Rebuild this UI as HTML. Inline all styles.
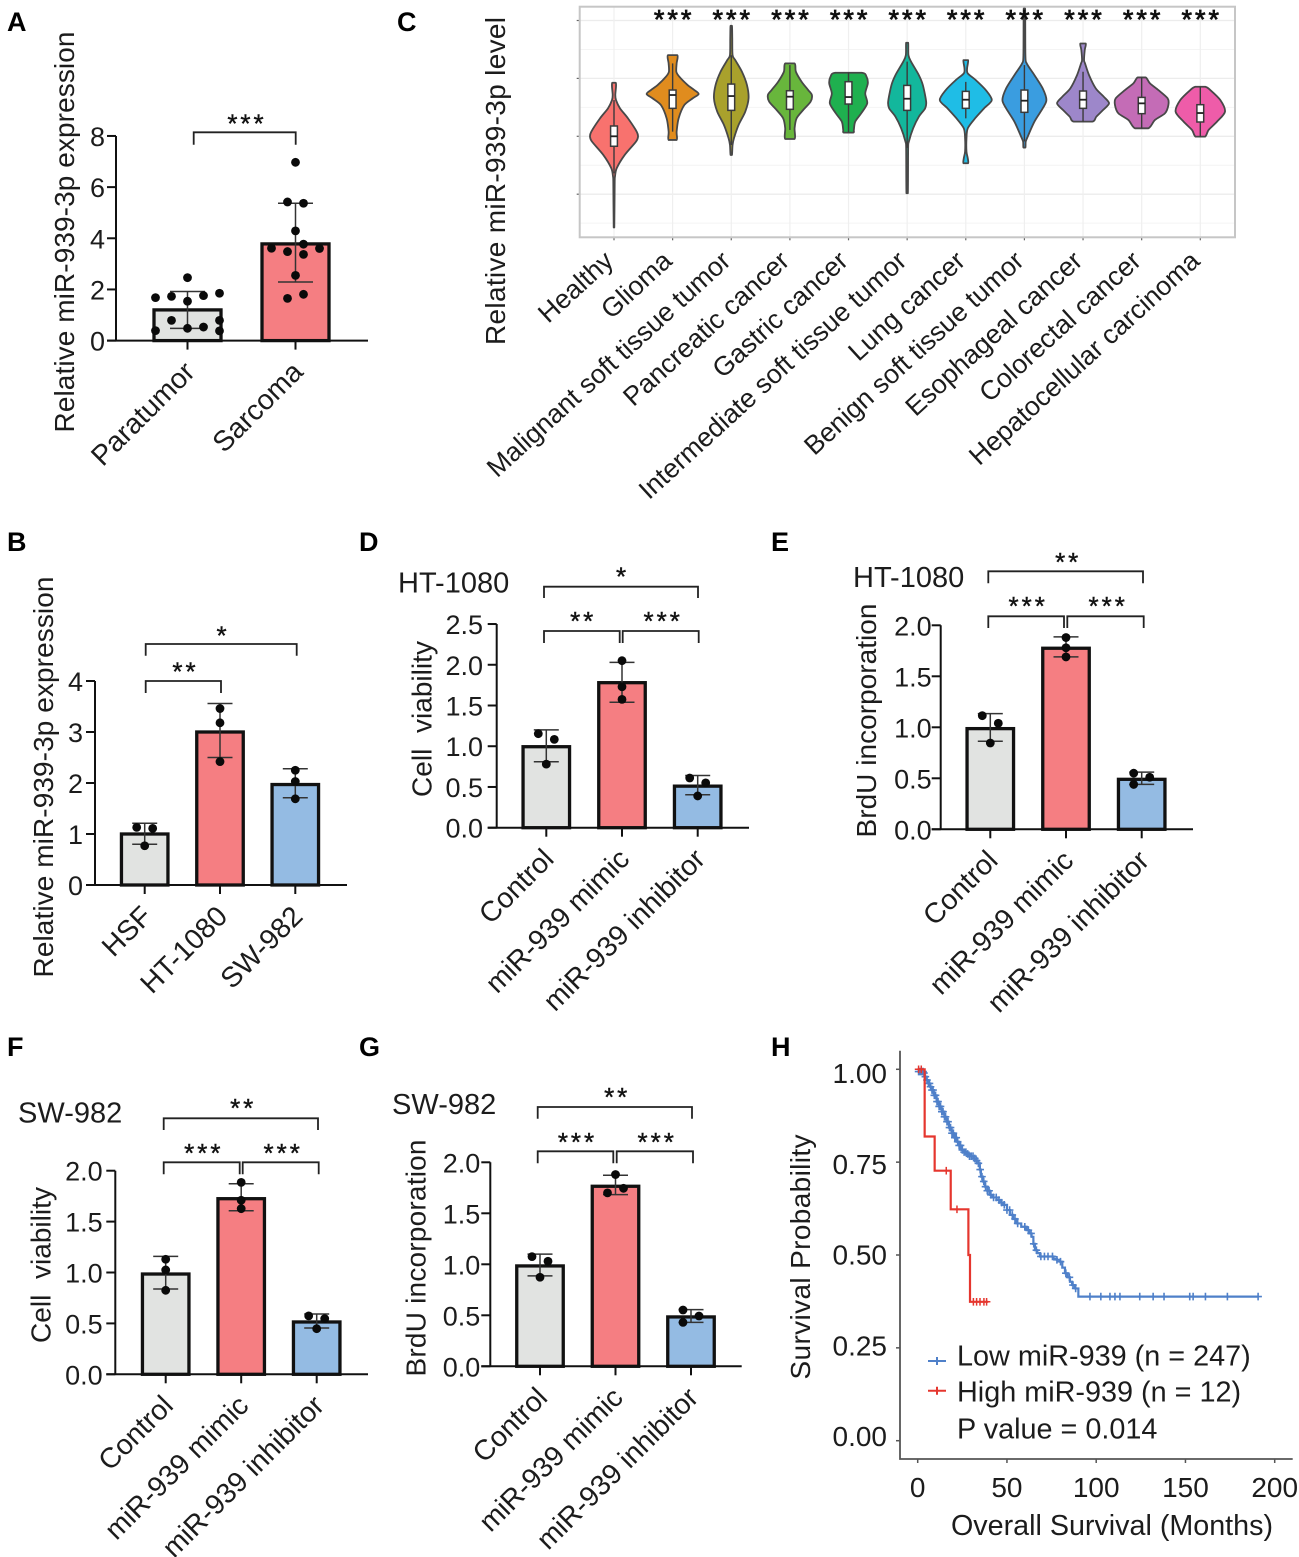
<!DOCTYPE html>
<html lang="en">
<head>
<meta charset="utf-8">
<title>miR-939-3p expression figure</title>
<style>
  html, body { margin: 0; padding: 0; background: #fff; }
  svg { display: block; font-family: "Liberation Sans", Arial, sans-serif; }
  text { fill: #1c1c1c; }
  .plabel { font-weight: bold; font-size: 27px; fill: #000; }
  .ytitle { font-size: 28px; }
  .xtitle { font-size: 28.7px; }
  .tick { font-size: 27px; }
  .cat { font-size: 28.4px; }
  .ccat { font-size: 26.7px; }
  .cond { font-size: 29px; }
  .sig { font-size: 26px; text-anchor: middle; letter-spacing: 3px; fill: #111; stroke: #111; stroke-width: 0.4; transform: translateY(-2.5px); }
  .sigc { font-size: 27px; stroke-width: 0.8; }
  .br { fill: none; stroke: #222; stroke-width: 1.8; }
  .legend { font-size: 28.8px; }
</style>
</head>
<body>
<svg id="figure" width="1299" height="1557" viewBox="0 0 1299 1557" xmlns="http://www.w3.org/2000/svg">
  <rect width="1299" height="1557" fill="#fff"/>

  <g>
    <text class="plabel" x="7" y="31">A</text>
    <text class="plabel" x="397" y="31">C</text>
    <text class="plabel" x="7" y="551">B</text>
    <text class="plabel" x="359" y="551">D</text>
    <text class="plabel" x="771" y="551">E</text>
    <text class="plabel" x="7" y="1056">F</text>
    <text class="plabel" x="359" y="1056">G</text>
    <text class="plabel" x="771" y="1056">H</text>
  </g>

  <!-- Panel A -->
  <g id="panel-a">
    <text class="ytitle" transform="translate(74,232) rotate(-90)" text-anchor="middle" textLength="401">Relative miR-939-3p expression</text>
    <path class="br" d="M193.7 144.7V132.3H295.7V144.7"/>
    <text class="sig" x="247" y="135">***</text>
  </g>

  <!-- Panel B -->
  <g id="panel-b">
    <text class="ytitle" transform="translate(53,777) rotate(-90)" text-anchor="middle" textLength="401">Relative miR-939-3p expression</text>
    <path class="br" d="M145.7 655.7V644H296.7V655.7"/>
    <path class="br" d="M145.7 693V681H221V693"/>
    <text class="sig" x="223" y="647">*</text>
    <text class="sig" x="185.5" y="683">**</text>
  </g>

  <!-- Panel D -->
  <g id="panel-d">
    <text class="cond" x="398" y="592.7">HT-1080</text>
    <text class="ytitle" transform="translate(431.3,719) rotate(-90)" text-anchor="middle" xml:space="preserve" textLength="156">Cell&#160;&#160;viability</text>
    <path class="br" d="M544 598V586.7H698V598"/>
    <path class="br" d="M544 643V631H619.7V643"/>
    <path class="br" d="M622.7 643V631H698.7V643"/>
    <text class="sig" x="622.5" y="588">*</text>
    <text class="sig" x="583.2" y="632.7">**</text>
    <text class="sig" x="663.2" y="632.7">***</text>
  </g>

  <!-- Panel E -->
  <g id="panel-e">
    <text class="cond" x="853" y="587">HT-1080</text>
    <text class="ytitle" transform="translate(876,720.5) rotate(-90)" text-anchor="middle" textLength="234">BrdU incorporation</text>
    <path class="br" d="M988.3 583.3V571.3H1143V583.3"/>
    <path class="br" d="M988.3 628V616.3H1064V628"/>
    <path class="br" d="M1067.3 628V616.3H1143.7V628"/>
    <text class="sig" x="1068.2" y="573.7">**</text>
    <text class="sig" x="1028.2" y="617.7">***</text>
    <text class="sig" x="1108.2" y="617.7">***</text>
  </g>

  <!-- Panel F -->
  <g id="panel-f">
    <text class="cond" x="18" y="1122.7">SW-982</text>
    <text class="ytitle" transform="translate(50.3,1265) rotate(-90)" text-anchor="middle" xml:space="preserve" textLength="156">Cell&#160;&#160;viability</text>
    <path class="br" d="M163.7 1130V1118.3H318V1130"/>
    <path class="br" d="M163.7 1174.3V1162.3H239.7V1174.3"/>
    <path class="br" d="M242.7 1174.3V1162.3H318.7V1174.3"/>
    <text class="sig" x="243.2" y="1119.7">**</text>
    <text class="sig" x="203.8" y="1164.3">***</text>
    <text class="sig" x="283.2" y="1164.3">***</text>
  </g>

  <!-- Panel G -->
  <g id="panel-g">
    <text class="cond" x="392" y="1114">SW-982</text>
    <text class="ytitle" transform="translate(425.7,1258) rotate(-90)" text-anchor="middle" textLength="237">BrdU incorporation</text>
    <path class="br" d="M537.7 1118.7V1107H692V1118.7"/>
    <path class="br" d="M537.7 1163.3V1151.3H613.3V1163.3"/>
    <path class="br" d="M616.7 1163.3V1151.3H693V1163.3"/>
    <text class="sig" x="617.2" y="1108.7">**</text>
    <text class="sig" x="577.5" y="1153.3">***</text>
    <text class="sig" x="657.2" y="1153.3">***</text>
  </g>

  <!-- Panel C -->
  <g id="panel-c">
    <text class="ytitle" transform="translate(505,181) rotate(-90)" text-anchor="middle" textLength="328">Relative miR-939-3p level</text>
    <g id="panel-c-marks"></g>
    <g>
      <text class="sig sigc" x="674.2" y="31">***</text>
      <text class="sig sigc" x="732.8" y="31">***</text>
      <text class="sig sigc" x="791.5" y="31">***</text>
      <text class="sig sigc" x="850.2" y="31">***</text>
      <text class="sig sigc" x="908.8" y="31">***</text>
      <text class="sig sigc" x="967.2" y="31">***</text>
      <text class="sig sigc" x="1025.8" y="31">***</text>
      <text class="sig sigc" x="1084.5" y="31">***</text>
      <text class="sig sigc" x="1143.2" y="31">***</text>
      <text class="sig sigc" x="1201.8" y="31">***</text>
    </g>
  </g>

  <!-- Panel H -->
  <g id="panel-h">
    <text class="ytitle" transform="translate(810,1257) rotate(-90)" text-anchor="middle" textLength="245">Survival Probability</text>
    <text class="xtitle" x="1112" y="1535" text-anchor="middle">Overall Survival (Months)</text>
    <g id="panel-h-marks"></g>
    <g>
      <g>
        <path d="M928 1361H946M937 1357V1365" stroke="#4F80C9" stroke-width="2" fill="none"/>
        <text class="legend" x="957" y="1365.7">Low miR-939 (n = 247)</text>
      </g>
      <g>
        <path d="M928 1390.7H946M937 1386.7V1394.7" stroke="#E5362E" stroke-width="2" fill="none"/>
        <text class="legend" x="957" y="1401.7">High miR-939 (n = 12)</text>
      </g>
      <text class="legend" x="957" y="1438.3">P value = 0.014</text>
    </g>
  </g>
</svg>

<script>
// ---------- Panel A ----------
const aCategories = ['Paratumor', 'Sarcoma'];
const aTicks = [0, 2, 4, 6, 8];
const aTickLabels = ['0', '2', '4', '6', '8'];
const aMeans = [1.2, 3.78];
const aErrLow = [0.48, 2.29];
const aErrHigh = [1.92, 5.37];
const aDots = [
  [2.46, 1.68, 1.73, 1.76, 1.85, 1.54, 0.79, 0.79, 0.39, 0.48, 0.53, 0.38],
  [6.97, 5.42, 5.37, 4.29, 3.77, 3.61, 3.48, 3.37, 3.6, 2.55, 1.81, 1.65]
];
const aLanes = [
  [0, -2, -1, 1, 2, 0, -1, 2, -2, 0, 1, 2],
  [0, -0.5, 0.5, 0, 0.5, -1.5, -0.5, 0.5, 1.5, 0, 0.5, -0.5]
];

// ---------- Panel B ----------
const bCategories = ['HSF', 'HT-1080', 'SW-982'];
const bTicks = [0, 1, 2, 3, 4];
const bTickLabels = ['0', '1', '2', '3', '4'];
const bMeans = [1, 3, 1.97];
const bErrLow = [0.8, 2.5, 1.71];
const bErrHigh = [1.21, 3.56, 2.28];
const bDots = [[1.13, 1.11, 0.77], [3.46, 3.18, 2.42], [2.25, 2.03, 1.69]];
const bLanes = [[-0.5, 0.5, 0], [0, 0, 0], [0, 0, 0]];

// ---------- Panel D ----------
const treatmentCategories = ['Control', 'miR-939 mimic', 'miR-939 inhibitor'];
const dTicks = [0, 0.5, 1, 1.5, 2, 2.5];
const dTickLabels = ['0.0', '0.5', '1.0', '1.5', '2.0', '2.5'];
const dMeans = [0.994, 1.78, 0.51];
const dErrLow = [0.81, 1.54, 0.405];
const dErrHigh = [1.2, 2.03, 0.64];
const dDots = [[1.154, 1.084, 0.78], [2.05, 1.73, 1.575], [0.61, 0.55, 0.39]];
const dLanes = [[-0.5, 0.5, 0], [0, 0, 0], [-0.5, 0.5, 0]];

// ---------- Panel E ----------
const eTicks = [0, 0.5, 1, 1.5, 2];
const eTickLabels = ['0.0', '0.5', '1.0', '1.5', '2.0'];
const eMeans = [0.987, 1.775, 0.49];
const eErrLow = [0.863, 1.69, 0.44];
const eErrHigh = [1.134, 1.886, 0.56];
const eDots = [[1.114, 1.04, 0.846], [1.88, 1.78, 1.69], [0.55, 0.51, 0.44]];
const eLanes = [[-0.5, 0.5, 0], [0, 0, 0], [-0.5, 0.5, -0.5]];

// ---------- Panel F ----------
const fMeans = [0.985, 1.725, 0.514];
const fErrLow = [0.838, 1.607, 0.455];
const fErrHigh = [1.159, 1.872, 0.592];
const fDots = [[1.13, 1.025, 0.825], [1.885, 1.71, 1.627], [0.574, 0.547, 0.448]];
const fLanes = [[0, 0, 0], [0, 0, 0], [-0.5, 0.5, 0]];

// ---------- Panel G ----------
const gMeans = [0.984, 1.765, 0.484];
const gErrLow = [0.886, 1.683, 0.431];
const gErrHigh = [1.1, 1.873, 0.556];
const gDots = [[1.075, 1.03, 0.873], [1.88, 1.745, 1.7], [0.552, 0.493, 0.431]];
const gLanes = [[-0.5, 0.5, 0], [0, 0.5, -0.5], [-0.5, 0.5, -0.5]];

// ---------- Panel C violins ----------
const violinCategories = ['Healthy', 'Glioma', 'Malignant soft tissue tumor', 'Pancreatic cancer', 'Gastric cancer', 'Intermediate soft tissue tumor', 'Lung cancer', 'Benign soft tissue tumor', 'Esophageal cancer', 'Colorectal cancer', 'Hepatocellular carcinoma'];
const violinGridMajor = [-1, 0, 1, 2];
const violinGridMinor = [-1.5, -0.5, 0.5, 1.5];

const healthyLevels = [0.925, 0.856, 0.713, 0.626, 0.483, 0.31, 0.08, -0.006, -0.092, -0.322, -0.552, -0.695, -0.782, -1.575];
const healthyDensity = [1.7, 2, 1.3, 2, 6, 14, 22.7, 24, 22, 10.7, 2.7, 1, 0.7, 0.3];
const gliomaLevels = [1.402, 1.259, 1.115, 1.029, 0.885, 0.799, 0.73, 0.655, 0.54, 0.31, 0.08, -0.063];
const gliomaDensity = [4.7, 4, 3.7, 6.7, 15, 21.7, 26, 20, 11.7, 6, 4, 4];
const malignantLevels = [1.908, 1.69, 1.402, 1.316, 1.115, 0.885, 0.655, 0.425, 0.195, -0.034, -0.149, -0.322];
const malignantDensity = [0.7, 1, 1.3, 4, 10.7, 15.7, 17.3, 14, 7.3, 2.7, 1.3, 0.7];
const pancreaticLevels = [1.259, 1.115, 0.943, 0.799, 0.713, 0.598, 0.454, 0.31, 0.138, -0.046];
const pancreaticDensity = [4.7, 6, 11.7, 18.3, 22, 20.7, 13.3, 6.7, 4.7, 4.7];
const gastricLevels = [1.098, 1.029, 0.914, 0.741, 0.569, 0.397, 0.253, 0.109, 0.063];
const gastricDensity = [13.3, 18, 19.3, 16.7, 18.7, 12.7, 6.7, 5.3, 4.7];
const intermediateLevels = [1.615, 1.402, 1.287, 1.057, 0.885, 0.598, 0.483, 0.339, 0.138, -0.092, -0.207, -0.983];
const intermediateDensity = [1, 1.3, 4, 11.7, 15.7, 19, 18, 11.7, 6, 1.7, 1, 0.7];
const lungLevels = [1.316, 1.172, 1.086, 0.971, 0.799, 0.626, 0.483, 0.31, 0.138, -0.034, -0.264, -0.379, -0.466];
const lungDensity = [2.3, 1.3, 2, 10, 20, 26, 18.3, 9.3, 2, 0.7, 0.7, 2, 2.3];
const benignLevels = [2.207, 1.402, 1.259, 1.057, 0.828, 0.626, 0.483, 0.253, -0.006, -0.092, -0.195];
const benignDensity = [0.7, 1, 2.3, 10, 18.3, 22, 18.3, 10, 3.3, 1.3, 1];
const esophagealLevels = [1.603, 1.489, 1.316, 1.259, 1.057, 0.828, 0.684, 0.569, 0.454, 0.339, 0.253];
const esophagealDensity = [2.7, 1.7, 1, 2, 6, 12.7, 20.7, 26, 20, 13.3, 9.3];
const colorectalLevels = [1.017, 0.914, 0.799, 0.655, 0.54, 0.397, 0.282, 0.138];
const colorectalDensity = [4, 8.3, 16.7, 26, 26.7, 23.3, 13.3, 6.7];
const hepatocellularLevels = [0.856, 0.799, 0.626, 0.425, 0.253, 0.109, -0.006];
const hepatocellularDensity = [5, 10, 20, 24.7, 16.7, 8.3, 4.7];

const boxQ3 = [0.178, 0.799, 0.902, 0.787, 0.943, 0.879, 0.776, 0.799, 0.782, 0.672, 0.546];
const boxMedian = [0, 0.713, 0.695, 0.684, 0.678, 0.649, 0.632, 0.615, 0.632, 0.569, 0.402];
const boxQ1 = [-0.172, 0.483, 0.448, 0.466, 0.557, 0.448, 0.483, 0.414, 0.483, 0.391, 0.247];
const whiskerHigh = [0.626, 1.259, 1.4, 1.23, 1.1, 1.29, 0.94, 1.23, 1.115, 1.017, 0.856];
const whiskerLow = [-0.64, 0.08, -0.15, 0.11, 0.07, -0.2, 0.31, -0.09, 0.253, 0.138, -0.006];

// ---------- Panel H survival ----------
const survivalTicksY = [0, 0.25, 0.5, 0.75, 1];
const survivalTickLabelsY = ['0.00', '0.25', '0.50', '0.75', '1.00'];
const survivalTicksX = [0, 50, 100, 150, 200];
const survivalTickLabelsX = ['0', '50', '100', '150', '200'];
const lowTimes = [
  0, 3.2, 4, 5, 6, 7, 7.8, 9, 10.6, 12,
  13.4, 15, 16.2, 17.5, 19, 20.5, 21.8, 23, 24.6, 26,
  27.4, 29, 31.2, 33, 34, 34.8, 35.4, 36.5, 37.7, 39,
  40.5, 42, 44.2, 46, 48, 50, 51.7, 53.5, 55.4, 58,
  61, 62.5, 63.8, 64.8, 65.7, 67, 68.5, 76, 78, 79.7,
  81, 82.5, 84, 85.3, 86.5, 88, 90, 191
];
const lowSurvival = [
  0.994, 0.99, 0.98, 0.971, 0.962, 0.953, 0.944, 0.93, 0.913, 0.9,
  0.886, 0.872, 0.859, 0.843, 0.828, 0.816, 0.805, 0.795, 0.783, 0.777,
  0.772, 0.766, 0.76, 0.754, 0.747, 0.73, 0.711, 0.698, 0.684, 0.673,
  0.662, 0.655, 0.648, 0.641, 0.635, 0.621, 0.608, 0.597, 0.585, 0.576,
  0.567, 0.558, 0.549, 0.53, 0.513, 0.505, 0.496, 0.49, 0.487, 0.482,
  0.466, 0.451, 0.44, 0.428, 0.419, 0.41, 0.388, 0.388
];
const lowCensored = [0.5, 1, 1.5, 2, 2.5, 3, 3.5, 4.3, 5.2, 6, 6.6, 7.2, 8, 8.6, 9.3, 10, 10.8, 11.4, 12, 12.8, 13.5, 14.2, 15, 15.6, 16.4, 17, 17.8, 18.4, 19.2, 20, 20.8, 21.6, 22.4, 23.2, 24, 25, 26, 27, 28, 29, 30, 31, 32, 33, 34, 35, 36, 37, 38, 39, 40, 41, 42.5, 44, 45.5, 47, 48.5, 50, 51.5, 53, 54.5, 56, 60, 62, 63.5, 65, 66.5, 69, 71, 73, 75.5, 78, 80, 83, 85, 87, 88.5, 96.5, 102.6, 107.7, 110.5, 113.3, 124.4, 131.9, 138, 152.4, 154.3, 161.2, 173.5, 190.7];
const highTimes = [0, 3.9, 9.5, 18.5, 28.4, 29.3, 39.5];
const highSurvival = [1, 0.819, 0.727, 0.623, 0.5, 0.374, 0.374];
const highCensored = [0.5, 2, 16, 22, 31.2, 33, 34.9, 37.1, 38.6];

// ---------- Drawing ----------
const NS = 'http://www.w3.org/2000/svg';

function make(tag, attrs, parent) {
  const el = document.createElementNS(NS, tag);
  for (const k in attrs) el.setAttribute(k, attrs[k]);
  parent.appendChild(el);
  return el;
}

function drawBarPanel(panelId, layout, categories, ticks, tickLabels, means, errLow, errHigh, dots, lanes) {
  const root = document.getElementById(panelId);
  const yScale = v => layout.y0 - v * layout.unit;
  const xScale = i => layout.firstCenter + i * layout.step;
  const fills = ['#E1E3E1', '#F57E82', '#94BBE3'];

  const barGroup = make('g', {}, root);
  
  
  means.forEach((m, i) => {
    const bar = make('rect', {
      x: xScale(i) - layout.barWidth / 2, y: yScale(m), width: layout.barWidth, height: layout.y0 - yScale(m),
      fill: fills[i], stroke: '#111', 'stroke-width': 3.3
    }, barGroup);
    
    
  });

  const axis = make('path', {
    d: 'M' + layout.axisX + ' ' + yScale(ticks[ticks.length - 1]) + 'V' + layout.y0 + 'M' + (layout.axisX - 9) + ' ' + layout.y0 + 'H' + layout.xEnd,
    stroke: '#111', 'stroke-width': 2, fill: 'none'
  }, root);
  
  

  ticks.forEach((t, i) => {
    const mark = make('line', { x1: layout.axisX - 9, x2: layout.axisX, y1: yScale(t), y2: yScale(t), stroke: '#111', 'stroke-width': 2 }, root);
    
    
    const label = make('text', { class: 'tick', x: layout.axisX - layout.labelGap, y: yScale(t) + 10, 'text-anchor': 'end' }, root);
    label.textContent = tickLabels[i];
    
    
  });

  categories.forEach((c, i) => {
    const mark = make('line', { x1: xScale(i), x2: xScale(i), y1: layout.y0, y2: layout.y0 + 9, stroke: '#111', 'stroke-width': 2 }, root);
    
    
    const lx = xScale(i) + 9, ly = layout.y0 + 33;
    const label = make('text', { class: 'cat', x: lx, y: ly, 'text-anchor': 'end', transform: 'rotate(-45 ' + lx + ' ' + ly + ')' }, root);
    label.textContent = c;
    
    
  });

  means.forEach((m, i) => {
    const cx = xScale(i), h = layout.capHalf;
    const err = make('path', {
      d: 'M' + cx + ' ' + yScale(errLow[i]) + 'V' + yScale(errHigh[i]) +
         'M' + (cx - h) + ' ' + yScale(errHigh[i]) + 'H' + (cx + h) +
         'M' + (cx - h) + ' ' + yScale(errLow[i]) + 'H' + (cx + h),
      stroke: '#333', 'stroke-width': 1.5, fill: 'none'
    }, root);
    
    
    dots[i].forEach((d, j) => {
      const dot = make('circle', { cx: cx + lanes[i][j] * 16, cy: yScale(d), r: 4.4, fill: '#0a0a0a' }, root);
      
      
    });
  });
}

drawBarPanel('panel-a', { axisX: 116, y0: 340.6, unit: 25.58, firstCenter: 187.5, step: 108, barWidth: 67, capHalf: 17.5, xEnd: 368, labelGap: 11 },
  aCategories, aTicks, aTickLabels, aMeans, aErrLow, aErrHigh, aDots, aLanes);
drawBarPanel('panel-b', { axisX: 95, y0: 885, unit: 51, firstCenter: 144.7, step: 75.3, barWidth: 46.5, capHalf: 12.5, xEnd: 347, labelGap: 12 },
  bCategories, bTicks, bTickLabels, bMeans, bErrLow, bErrHigh, bDots, bLanes);
drawBarPanel('panel-d', { axisX: 496.7, y0: 827.7, unit: 81.47, firstCenter: 546.3, step: 75.7, barWidth: 46.5, capHalf: 12.5, xEnd: 749, labelGap: 13.7 },
  treatmentCategories, dTicks, dTickLabels, dMeans, dErrLow, dErrHigh, dDots, dLanes);
drawBarPanel('panel-e', { axisX: 940.7, y0: 829.3, unit: 102, firstCenter: 990.3, step: 75.7, barWidth: 46.5, capHalf: 12.5, xEnd: 1193, labelGap: 9 },
  treatmentCategories, eTicks, eTickLabels, eMeans, eErrLow, eErrHigh, eDots, eLanes);
drawBarPanel('panel-f', { axisX: 115.3, y0: 1374.3, unit: 101.8, firstCenter: 165.7, step: 75.5, barWidth: 46.5, capHalf: 12.5, xEnd: 368, labelGap: 12.6 },
  treatmentCategories, eTicks, eTickLabels, fMeans, fErrLow, fErrHigh, fDots, fLanes);
drawBarPanel('panel-g', { axisX: 490.3, y0: 1366.3, unit: 102, firstCenter: 540, step: 75.5, barWidth: 46.5, capHalf: 12.5, xEnd: 741.7, labelGap: 10 },
  treatmentCategories, eTicks, eTickLabels, gMeans, gErrLow, gErrHigh, gDots, gLanes);

function clamp(v, a, b) {
  return Math.min(Math.max(a, b), Math.max(Math.min(a, b), v));
}

function smoothPath(pts) {
  let d = 'M' + pts[0][0] + ' ' + pts[0][1];
  const n = pts.length;
  for (let i = 0; i < n; i++) {
    const p0 = pts[(i - 1 + n) % n], p1 = pts[i], p2 = pts[(i + 1) % n], p3 = pts[(i + 2) % n];
    const c1x = p1[0] + (p2[0] - p0[0]) / 7, c1y = clamp(p1[1] + (p2[1] - p0[1]) / 7, p1[1], p2[1]);
    const c2x = p2[0] - (p3[0] - p1[0]) / 7, c2y = clamp(p2[1] - (p3[1] - p1[1]) / 7, p1[1], p2[1]);
    d += 'C' + c1x + ' ' + c1y + ' ' + c2x + ' ' + c2y + ' ' + p2[0] + ' ' + p2[1];
  }
  return d + 'Z';
}

function drawViolins() {
  const root = document.getElementById('panel-c-marks');
  const yScale = v => 136.3 - 57.9 * v;
  const xScale = i => 614 + i * 58.63;
  const left = 579.7, right = 1235, top = 6.7, bottom = 237.3;
  const palette = ['#F8726E', '#E08C1E', '#A9A12C', '#68B63C', '#1FB04F', '#13B79C', '#1FBDE6', '#3A9DE0', '#9D87CA', '#C46CB6', '#EE5CA9'];
  const levelSets = [healthyLevels, gliomaLevels, malignantLevels, pancreaticLevels, gastricLevels, intermediateLevels, lungLevels, benignLevels, esophagealLevels, colorectalLevels, hepatocellularLevels];
  const densitySets = [healthyDensity, gliomaDensity, malignantDensity, pancreaticDensity, gastricDensity, intermediateDensity, lungDensity, benignDensity, esophagealDensity, colorectalDensity, hepatocellularDensity];

  violinGridMinor.forEach(v => {
    const g = make('line', { x1: left, x2: right, y1: yScale(v), y2: yScale(v), stroke: '#f4f4f4', 'stroke-width': 1 }, root);
    
    
  });
  violinGridMajor.forEach(v => {
    const g = make('line', { x1: left, x2: right, y1: yScale(v), y2: yScale(v), stroke: '#ececec', 'stroke-width': 1.3 }, root);
    
    
    const t = make('line', { x1: left - 3, x2: left, y1: yScale(v), y2: yScale(v), stroke: '#666', 'stroke-width': 1.2 }, root);
    
    
  });
  violinCategories.forEach((c, i) => {
    const g = make('line', { x1: xScale(i), x2: xScale(i), y1: top, y2: bottom, stroke: '#efefef', 'stroke-width': 1.2 }, root);
    
    
    const t = make('line', { x1: xScale(i), x2: xScale(i), y1: bottom, y2: bottom + 3, stroke: '#666', 'stroke-width': 1.2 }, root);
    
    
    const lx = xScale(i) + 1, ly = 263;
    const label = make('text', { class: 'ccat', x: lx, y: ly, 'text-anchor': 'end', transform: 'rotate(-42.5 ' + lx + ' ' + ly + ')' }, root);
    label.textContent = c;
    
    
  });
  const frame = make('rect', { x: left, y: top, width: right - left, height: bottom - top, fill: 'none', stroke: '#c6c6c6', 'stroke-width': 2 }, root);
  
  

  violinCategories.forEach((c, i) => {
    const cx = xScale(i);
    const levels = levelSets[i], density = densitySets[i];
    const rightSide = levels.map((v, j) => [cx + density[j], yScale(v)]);
    const leftSide = levels.map((v, j) => [cx - density[j], yScale(v)]).reverse();
    const g = make('g', {}, root);
    
    
    const body = make('path', { d: smoothPath(rightSide.concat(leftSide)), fill: palette[i], stroke: '#484848', 'stroke-width': 1.8, 'stroke-linejoin': 'round' }, g);
    
    
    const whisker = make('line', { x1: cx, x2: cx, y1: yScale(whiskerHigh[i]), y2: yScale(whiskerLow[i]), stroke: '#3a3a3a', 'stroke-width': 1.4 }, g);
    
    
    const box = make('rect', { x: cx - 3.4, y: yScale(boxQ3[i]), width: 6.8, height: yScale(boxQ1[i]) - yScale(boxQ3[i]), fill: '#fff', stroke: '#3a3a3a', 'stroke-width': 1.5 }, g);
    
    
    const med = make('line', { x1: cx - 3.4, x2: cx + 3.4, y1: yScale(boxMedian[i]), y2: yScale(boxMedian[i]), stroke: '#222', 'stroke-width': 1.8 }, g);
    
    
  });
}
drawViolins();

function drawSurvival() {
  const root = document.getElementById('panel-h-marks');
  const xScale = t => 917.7 + t * 1.785;
  const yScale = s => 1440.7 - s * 371.4;
  const yLabelBaseline = s => 1446 + s * 363;

  const axes = make('path', { d: 'M900 1050.7V1459H1292.7', fill: 'none', stroke: '#555', 'stroke-width': 1.8 }, root);
  
  

  survivalTicksY.forEach((s, i) => {
    const m = make('line', { x1: 896, x2: 900, y1: yScale(s), y2: yScale(s), stroke: '#555', 'stroke-width': 1.5 }, root);
    
    
  });
  survivalTicksY.forEach((s, i) => {
    const l = make('text', { class: 'tick', style: 'font-size:28px', x: 887, y: 1446 - s * 363, 'text-anchor': 'end' }, root);
    l.textContent = survivalTickLabelsY[i];
    
    
  });
  survivalTicksX.forEach((t, i) => {
    const m = make('line', { x1: xScale(t), x2: xScale(t), y1: 1459, y2: 1463, stroke: '#555', 'stroke-width': 1.5 }, root);
    
    
    const l = make('text', { class: 'tick', style: 'font-size:28px', x: xScale(t), y: 1497, 'text-anchor': 'middle' }, root);
    l.textContent = survivalTickLabelsX[i];
    
    
  });

  function stepPath(times, surv) {
    let d = 'M' + xScale(times[0]) + ' ' + yScale(surv[0]);
    for (let i = 1; i < times.length; i++) {
      d += 'H' + xScale(times[i]) + 'V' + yScale(surv[i]);
    }
    return d;
  }
  function survivalAt(times, surv, t) {
    let s = surv[0];
    for (let i = 0; i < times.length; i++) {
      if (times[i] <= t) s = surv[i];
    }
    return s;
  }
  function censorPath(list, times, surv) {
    let d = '';
    list.forEach(t => {
      const x = xScale(t), y = yScale(survivalAt(times, surv, t));
      d += 'M' + (x - 3.8) + ' ' + y + 'H' + (x + 3.8) + 'M' + x + ' ' + (y - 3.8) + 'V' + (y + 3.8);
    });
    return d;
  }

  const lowLine = make('path', { d: stepPath(lowTimes, lowSurvival), fill: 'none', stroke: '#4F80C9', 'stroke-width': 2.2 }, root);
  
  
  const lowMarks = make('path', { d: censorPath(lowCensored, lowTimes, lowSurvival), fill: 'none', stroke: '#4F80C9', 'stroke-width': 1.6 }, root);
  
  
  const highLine = make('path', { d: stepPath(highTimes, highSurvival), fill: 'none', stroke: '#E5362E', 'stroke-width': 2.2 }, root);
  
  
  const highMarks = make('path', { d: censorPath(highCensored, highTimes, highSurvival), fill: 'none', stroke: '#E5362E', 'stroke-width': 1.5 }, root);
  
  
}
drawSurvival();
</script>
</body>
</html>
